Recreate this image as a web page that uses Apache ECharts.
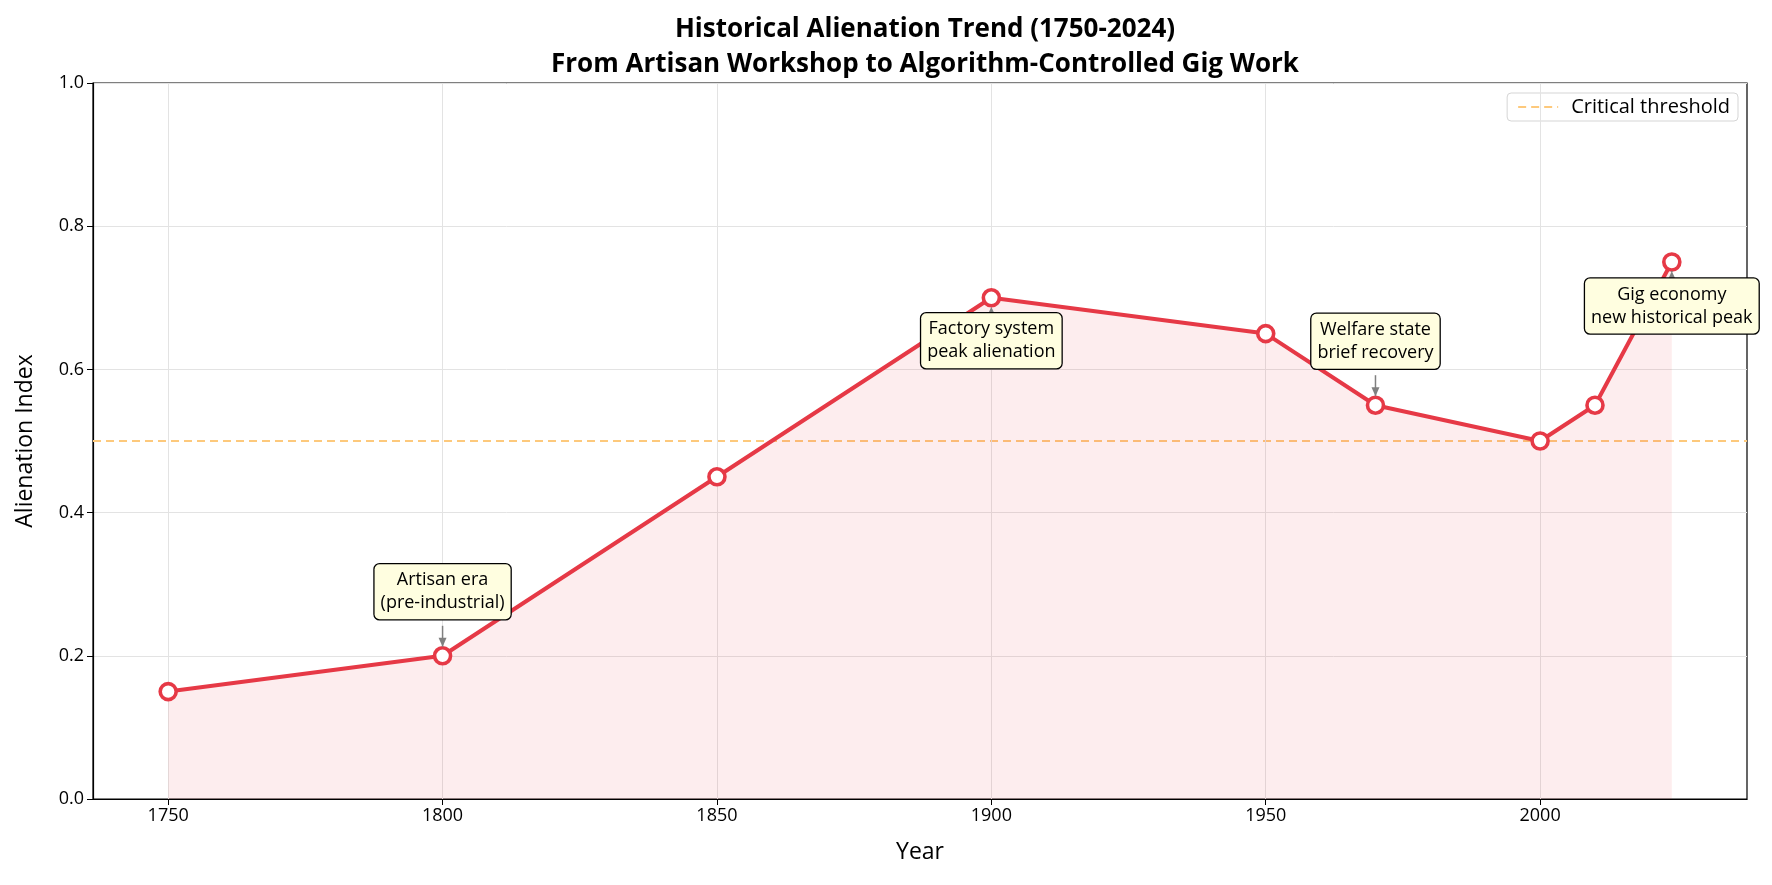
<!DOCTYPE html>
<html>
<head>
<meta charset="utf-8">
<script src="https://cdn.jsdelivr.net/npm/echarts@6/dist/echarts.min.js"></script>
<style>
  html, body { margin: 0; padding: 0; background: #fff; }
  #chart { width: 1772px; height: 885px; }
</style>
</head>
<body>
<div id="chart"></div>
<script>
// data
const years = [1750, 1800, 1850, 1900, 1950, 1970, 2000, 2010, 2024];
const alienation = [0.15, 0.20, 0.45, 0.70, 0.65, 0.55, 0.50, 0.55, 0.75];
const xTicks = [1750, 1800, 1850, 1900, 1950, 2000];
const threshold = 0.5;
const notes = [
  { year: 1800, value: 0.20, text: "Artisan era\n(pre-industrial)", dy: -64 },
  { year: 1900, value: 0.70, text: "Factory system\npeak alienation", dy: 43 },
  { year: 1970, value: 0.55, text: "Welfare state\nbrief recovery", dy: -64 },
  { year: 2024, value: 0.75, text: "Gig economy\nnew historical peak", dy: 44 }
];

const FONT = "Open Sans";
const xMin = 1736.3, xMax = 2037.7;

let chart = echarts.init(document.getElementById("chart"));

let option = {
  backgroundColor: "#fff",
  animation: false,
  textStyle: { fontFamily: FONT },
  title: {
    text: "Historical Alienation Trend (1750-2024)\nFrom Artisan Workshop to Algorithm-Controlled Gig Work",
    left: 920,
    textAlign: "center",
    top: 7,
    textStyle: { fontFamily: FONT, fontWeight: "bold", fontSize: 26, lineHeight: 35, color: "#000" }
  },
  legend: {
    right: 34,
    top: 93,
    data: ["Critical threshold"],
    itemWidth: 40,
    itemHeight: 12,
    padding: [4, 8, 4, 10],
    borderColor: "#d5d5d5",
    borderWidth: 1,
    borderRadius: 4,
    backgroundColor: "rgba(255,255,255,0.8)",
    itemStyle: { opacity: 0 },
    textStyle: { fontFamily: FONT, fontSize: 20, color: "#000", padding: [0, 0, 0, 8] }
  },
  grid: {
    left: 93, right: 25, top: 83, bottom: 86,
    show: true, borderColor: "#000", borderWidth: 1.2, backgroundColor: "transparent"
  },
  xAxis: {
    type: "value",
    min: xMin,
    max: xMax,
    name: "Year",
    nameLocation: "middle",
    nameGap: 42,
    nameTextStyle: { fontFamily: FONT, fontSize: 23, color: "#000" },
    axisLine: { show: true, onZero: false, lineStyle: { color: "#000", width: 1.2 } },
    axisTick: { show: true, length: 6, customValues: xTicks, lineStyle: { color: "#000" } },
    axisLabel: { customValues: xTicks, fontSize: 18, color: "#000", margin: 8, fontFamily: FONT,
      formatter: function (v) { return String(Math.round(v)); } },
    splitLine: { show: false }
  },
  yAxis: {
    type: "value",
    min: 0,
    max: 1,
    interval: 0.2,
    name: "Alienation Index",
    nameLocation: "middle",
    nameGap: 56,
    nameTextStyle: { fontFamily: FONT, fontSize: 23, color: "#000" },
    axisLine: { show: true, lineStyle: { color: "#000", width: 1.2 } },
    axisTick: { show: true, length: 6, lineStyle: { color: "#000" } },
    axisLabel: { fontSize: 18, color: "#000", margin: 9, fontFamily: FONT,
      formatter: function (v) { return v.toFixed(1); } },
    splitLine: { show: true, lineStyle: { color: "#e3e3e3", width: 1 } }
  },
  series: [
    {
      name: "grid-x",
      type: "line",
      data: [],
      silent: true,
      markLine: {
        silent: true,
        symbol: "none",
        label: { show: false },
        lineStyle: { color: "#e3e3e3", width: 1, type: "solid" },
        data: xTicks.map(function (t) { return { xAxis: t }; })
      }
    },
    {
      name: "Critical threshold",
      type: "line",
      symbol: "none",
      data: [[xMin, threshold], [xMax, threshold]],
      lineStyle: { color: "#fdc97c", width: 2, type: [8, 5] },
      itemStyle: { color: "#fdc97c" },
      z: 3
    },
    {
      name: "Alienation",
      type: "line",
      data: years.map(function (y, i) { return [y, alienation[i]]; }),
      symbol: "circle",
      symbolSize: 16,
      showAllSymbol: true,
      lineStyle: { color: "#e63946", width: 4 },
      itemStyle: { color: "#fff", borderColor: "#e63946", borderWidth: 3.6 },
      areaStyle: { color: "rgba(230,57,70,0.13)", origin: "start" },
      z: 5
    }
  ]
};

chart.setOption(option);

// annotations placed from data points
let graphics = [];
notes.forEach(function (n) {
  let p = chart.convertToPixel({ gridIndex: 0 }, [n.year, n.value]);
  let bx = p[0], by = p[1] + n.dy;
  graphics.push({
    type: "text",
    x: bx, y: by,
    z: 20,
    style: {
      text: n.text,
      fontFamily: FONT,
      fontSize: 18,
      lineHeight: 23,
      fill: "#000",
      align: "center",
      verticalAlign: "middle",
      backgroundColor: "#fffee0",
      borderColor: "#000",
      borderWidth: 1.3,
      borderRadius: 5,
      padding: [5, 6, 4, 6]
    }
  });
  // arrow from box edge to point
  let y1, y2;
  if (n.dy < 0) { y1 = by + 34; y2 = p[1] - 9; }
  else { y1 = by - 34; y2 = p[1] + 9; }
  let dir = y2 > y1 ? 1 : -1;
  graphics.push({
    type: "line", z: 19,
    shape: { x1: p[0], y1: y1, x2: p[0], y2: y2 },
    style: { stroke: "#808080", lineWidth: 1.5 }
  });
  graphics.push({
    type: "polygon", z: 19,
    shape: { points: [[p[0], y2], [p[0] - 4, y2 - dir * 9], [p[0] + 4, y2 - dir * 9]] },
    style: { fill: "#808080" }
  });
});
chart.setOption({ graphic: graphics });

window.addEventListener("resize", function () {
  chart.resize();
});
</script>
</body>
</html>
